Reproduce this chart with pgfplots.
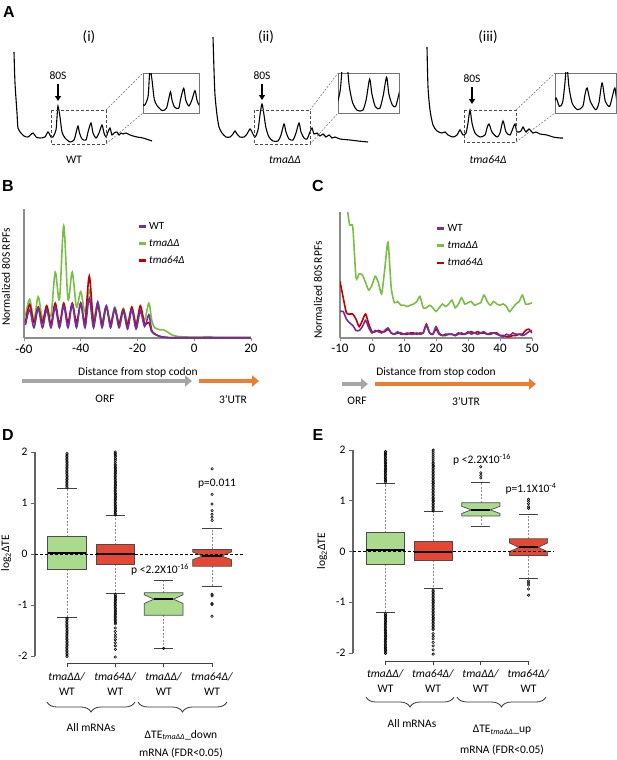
\documentclass[border=0pt]{standalone}
\usepackage{fontspec}
\setmainfont{Carlito}
\newfontfamily\panelfont{Liberation Sans}
\usepackage{pgfplots}
\pgfplotsset{compat=1.18}
\usepackage{pgfplotstable}
\usetikzlibrary{arrows.meta,decorations.pathreplacing}

\definecolor{wtc}{RGB}{112,48,160}
\definecolor{ddc}{RGB}{122,190,70}
\definecolor{dsf}{RGB}{192,0,0}
\definecolor{boxg}{RGB}{170,218,140}
\definecolor{boxr}{RGB}{228,72,52}
\definecolor{arrg}{RGB}{165,165,165}
\definecolor{arro}{RGB}{237,125,49}

\newcommand\labfont{\fontsize{11.5}{14}\selectfont}
\newcommand\tickfont{\fontsize{13}{15}\selectfont}
\newcommand\legfont{\fontsize{11}{13}\selectfont}
\newcommand\catfont{\fontsize{11.5}{15}\selectfont}
\newcommand\letfont{\panelfont\bfseries\fontsize{16}{18}\selectfont}

% polysome traces, x = position, y = -height (page pixels)
\pgfplotstableread{
x y
14 -52
15 -83
17 -113
18 -128
21 -133
24 -136
28 -137
33 -133
36 -137
40 -138
45 -137
48 -132
51 -137
53 -137
56 -130
57 -117
58 -106
60 -117
62 -132
65 -138
70 -142
74 -140
76 -133
78 -126
79.5 -133
82 -139
86 -140
88 -132
91 -123
93 -133
96 -138
99 -133
102 -125
104 -133
106 -137
108 -132
110 -128
112 -135
114 -133
117 -132
119 -135
121 -133
123 -134
126 -133
130 -135
137 -137
143 -138
152 -141
}\profI

\pgfplotstableread{
x y
213 -37
214 -70
215 -95
217 -115
219 -127
222 -133
226 -137
230 -137
233 -134
235 -131
237 -134
240 -137
244 -137
247 -134
250 -129
252 -132
255 -137
258 -130
260 -115
262 -104
264 -115
266 -128
269 -137
273 -141
278 -141
281 -135
284 -124
286 -132
289 -139
293 -140
296 -133
299 -123
301 -132
304 -138
307 -139
310 -132
312 -128
314 -134
317 -133
320 -136
323 -134
326 -137
329 -135
332 -138
335 -137
340 -139
350 -140
358 -141
368 -142
}\profII

\pgfplotstableread{
x y
427 -47
428 -87
430 -110
433 -125
437 -131
442 -133
445 -132
448 -135
453 -137
457 -135
460 -130
463 -135
466 -133
468 -123
470 -110
472 -123
475 -133
480 -137
485 -135
487 -128
489 -124
492 -132
497 -137
500 -133
503 -121
506 -132
510 -135
513 -128
515 -124
517 -132
521 -131
523 -127
526 -132
529 -129
533 -133
536 -132
540 -134
547 -135
553 -137
560 -138
563 -138
}\profIII

% panel B: metagene around stop codon
\pgfplotstableread{
x wt dd dsf
-59.5 10 17 12
-58 22 30 26
-56.5 8 14 12
-55 23 32 24
-53.5 8 15 12
-52 22 24 25
-50.5 8 17 11
-49 24 51 27
-47.5 8 30 11
-46 25 87 27
-44.5 8 30 12
-43 26 51 27
-41.5 8 24 12
-40 27 36 27
-38.5 8 20 12
-37 31 37 48
-35.5 8 16 12
-34 28 27 25
-32.5 8 13 11
-31 25 25 24
-29.5 8 12 11
-28 23 24 22
-26.5 8 12 11
-25 21 23 22
-23.5 7 12 10
-22 22 23 24
-20.5 7 12 10
-19 21 22 25
-17.5 9 14 11
-16 18 27 12
-15 6 14 5
-14 3.5 8 3
-13 2 7 2
-12 1.2 6.3 1.2
-11 0.8 6.5 0.7
-10 0.5 5.5 0.5
-9 0.3 4 0.3
-8 0.2 2.6 0.2
-7 0.2 1.8 0.2
-6 0.2 1.3 0.2
-5 0.2 1 0.2
-3 0.2 0.8 0.2
0 0.2 0.6 0.2
3 0.2 0.7 0.2
5 0.2 1.0 0.2
7 0.2 0.5 0.2
10 0.2 0.5 0.2
15 0.2 0.5 0.2
20 0.2 0.5 0.2
}\tabB

% panel C: 3'UTR
\pgfplotstableread{
x wt dd dsf
-10 21 150 45
-9 21 130 32
-8 15 108 20
-7 12 90 19
-6 10 88 19
-5 6 48 15
-4 6 51 9
-3 9 50 14
-2 14 44 19
-1 8 38 11
0 4 42 5
1 6 49 5
2 5 44 6
3 4 35 5
4 6 55 5
5 8 76 7
6 4 40 4
7 3 28 3
8 5 29 4
9 3 26 4
10 3 26 3
11 4 25 3
12 3 26 4
13 3 27 4
14 4 29 3
15 3 33 4
16 4 24 4
17 10 24 11
18 4 26 4
19 3 24 3
20 9 21 7
21 4 24 3
22 2 27 2
23 2 25 3
24 3 27 3
25 3 30 3
26 2 24 2
27 3 27 4
28 4 32 3
29 3 27 3
30 5 28 4
31 3 29 5
32 4 26 4
33 3 27 5
34 4 28 4
35 5 34 4
36 3 29 3
37 4 26 3
38 4 29 4
39 3 27 4
40 2 26 2
41 1 27 2
42 3 25 1
43 2 21 1
44 4 24 2
45 3 27 2
46 3 29 3
47 2 34 3
48 3 27 6
49 5 27 7
50 6 28 4
}\tabC

\pgfplotsset{
  prfax/.style={scale only axis, anchor=south west, axis lines=none},
  insax/.style={scale only axis, anchor=south west, xtick=\empty, ytick=\empty,
    axis line style={black!55, line width=0.8pt}},
  trc/.style={black, line width=1.1pt, smooth, tension=0.45},
  lineax/.style={scale only axis, anchor=south west,
    axis x line*=bottom, axis y line*=left,
    axis line style={black!45, line width=1.2pt},
    ymin=0, ymax=100, ytick=\empty,
    tick align=outside, major tick length=3pt,
    tick style={black!45, line width=0.9pt},
    xticklabel style={font=\tickfont},
    legend cell align=left,
    legend style={draw=none, fill=none, font=\legfont, row sep=4.5pt,
      inner sep=0pt, anchor=north west},
    legend image code/.code={\draw[##1] (0pt,0pt) -- (7pt,0pt);}},
  boxax/.style={scale only axis, anchor=south west,
    ymin=-2, ymax=2, clip=false, unbounded coords=jump,
    axis y line*=left, axis x line*=bottom,
    x axis line style={draw=none},
    y axis line style={black!60, line width=1.3pt},
    ytick={-2,-1,0,1,2}, yticklabels={-2,-1,0,1,2},
    xtick={1,2,3,4},
    tick align=outside, major tick length=4pt,
    ytick style={black!60, line width=1pt},
    xtick style={draw=none},
    yticklabel style={font=\labfont},
    xticklabel style={font=\catfont, align=center, yshift=-9pt}},
  bxwhisk/.style={black!45, line width=0.5pt, dash pattern=on 2pt off 1.5pt},
  bxcap/.style={black!75, line width=0.9pt},
  bxline/.style={draw=black!70, line width=0.7pt},
  bxmed/.style={black, line width=2pt},
  bxout/.style={only marks, mark=o, mark size=1.25pt, black,
    mark options={line width=0.55pt}},
  bxzero/.style={black, line width=0.8pt, dash pattern=on 3pt off 2pt},
}

\begin{document}
\begin{tikzpicture}
\useasboundingbox (0pt,0pt) rectangle (617pt,-760pt);

% ---------- A: polysome profiles ----------
\begin{axis}[prfax, xmin=10, xmax=160, ymin=-150, ymax=-30,
  width=150pt, height=120pt, at={(10pt,-150pt)}]
\addplot[trc] table {\profI};
\end{axis}
\begin{axis}[insax, xmin=51, xmax=106, ymin=-144, ymax=-110,
  width=56pt, height=40pt, at={(143pt,-113pt)}]
\addplot[trc] table {\profI};
\end{axis}

\begin{axis}[prfax, xmin=205, xmax=375, ymin=-150, ymax=-30,
  width=170pt, height=120pt, at={(205pt,-150pt)}]
\addplot[trc] table {\profII};
\end{axis}
\begin{axis}[insax, xmin=256, xmax=310, ymin=-142.5, ymax=-120.7,
  width=61pt, height=40pt, at={(338pt,-113pt)}]
\addplot[trc] table {\profII};
\end{axis}

\begin{axis}[prfax, xmin=420, xmax=570, ymin=-150, ymax=-30,
  width=150pt, height=120pt, at={(420pt,-150pt)}]
\addplot[trc] table {\profIII};
\end{axis}
\begin{axis}[insax, xmin=459, xmax=516, ymin=-139, ymax=-115,
  width=61pt, height=40pt, at={(555pt,-113pt)}]
\addplot[trc] table {\profIII};
\end{axis}

% ---------- B ----------
\begin{axis}[lineax, width=227pt, height=129pt, at={(24pt,-338pt)},
  xmin=-60, xmax=20, xtick={-60,-40,-20,0,20}, xticklabels={-60,-40,-20,0,20},
  legend style={at={(axis description cs:0.5,0.915)}}]
\addlegendimage{wtc, line width=2.5pt}\addlegendentry{WT}
\addlegendimage{ddc, line width=2.5pt}\addlegendentry{\textit{tmaΔΔ}}
\addlegendimage{dsf, line width=2.5pt}\addlegendentry{\textit{tma64Δ}}
\addplot[ddc, line width=1.6pt, smooth, forget plot] table[x=x, y=dd] {\tabB};
\addplot[dsf, line width=1.6pt, smooth, forget plot] table[x=x, y=dsf] {\tabB};
\addplot[wtc, line width=1.6pt, smooth, forget plot] table[x=x, y=wt] {\tabB};
\end{axis}

% ---------- C ----------
\begin{axis}[lineax, width=192pt, height=126pt, at={(340pt,-338pt)},
  xmin=-10, xmax=50, xtick={-10,0,10,20,30,40,50},
  xticklabels={-10,0,10,20,30,40,50},
  legend style={at={(axis description cs:0.5,0.92)}}]
\addlegendimage{wtc, line width=2.5pt}\addlegendentry{WT}
\addlegendimage{ddc, line width=2.5pt}\addlegendentry{\textit{tmaΔΔ}}
\addlegendimage{dsf, line width=2.5pt}\addlegendentry{\textit{tma64Δ}}
\addplot[ddc, line width=1.6pt, smooth, tension=0.4, forget plot] table[x=x, y=dd] {\tabC};
\addplot[dsf, line width=1.6pt, smooth, tension=0.4, forget plot] table[x=x, y=dsf] {\tabC};
\addplot[wtc, line width=1.6pt, smooth, tension=0.4, forget plot] table[x=x, y=wt] {\tabC};
\end{axis}

% ---------- D ----------
\begin{axis}[boxax, width=209pt, height=204pt, at={(35pt,-656pt)},
  xmin=0.34, xmax=4.66,
  xticklabels={{\textit{tmaΔΔ/}\\WT},{\textit{tma64Δ/}\\WT},{\textit{tmaΔΔ/}\\WT},{\textit{tma64Δ/}\\WT}}]
\addplot[bxwhisk] coordinates {(1,0.34)(1,1.29)(1,nan)(1,-0.30)(1,-1.24)};
\addplot[bxwhisk] coordinates {(2,0.18)(2,0.75)(2,nan)(2,-0.20)(2,-0.78)};
\addplot[bxwhisk] coordinates {(3,-0.76)(3,-0.52)(3,nan)(3,-1.20)(3,-1.85)};
\addplot[bxwhisk] coordinates {(4,0.09)(4,0.50)(4,nan)(4,-0.24)(4,-0.645)};
\addplot[bxcap] coordinates {(0.8,1.29)(1.2,1.29)(nan,nan)(0.8,-1.24)(1.2,-1.24)};
\addplot[bxcap] coordinates {(1.8,0.75)(2.2,0.75)(nan,nan)(1.8,-0.78)(2.2,-0.78)};
\addplot[bxcap] coordinates {(2.8,-0.52)(3.2,-0.52)(nan,nan)(2.8,-1.85)(3.2,-1.85)};
\addplot[bxcap] coordinates {(3.8,0.50)(4.2,0.50)(nan,nan)(3.8,-0.645)(4.2,-0.645)};
\addplot[bxline, fill=boxg] coordinates {(0.6,-0.30)(1.4,-0.30)(1.4,0.34)(0.6,0.34)} -- cycle;
\addplot[bxline, fill=boxr] coordinates {(1.6,-0.20)(2.4,-0.20)(2.4,0.18)(1.6,0.18)} -- cycle;
\addplot[bxline, fill=boxg] coordinates {(2.6,-1.20)(2.6,-0.97)(2.8,-0.885)(2.6,-0.80)(2.6,-0.76)(3.4,-0.76)(3.4,-0.80)(3.2,-0.885)(3.4,-0.97)(3.4,-1.20)} -- cycle;
\addplot[bxline, fill=boxr] coordinates {(3.6,-0.24)(3.6,-0.11)(3.8,-0.04)(3.6,0.04)(3.6,0.09)(4.4,0.09)(4.4,0.04)(4.2,-0.04)(4.4,-0.11)(4.4,-0.24)} -- cycle;
\addplot[bxmed] coordinates {(0.6,0.01)(1.4,0.01)};
\addplot[bxmed] coordinates {(1.6,0)(2.4,0)};
\addplot[bxmed] coordinates {(2.8,-0.885)(3.2,-0.885)};
\addplot[bxmed] coordinates {(3.8,-0.04)(4.2,-0.04)};
\addplot[bxout] coordinates {(1,1.31)(1,1.34)(1,1.37)(1,1.40)(1,1.43)(1,1.46)(1,1.49)(1,1.52)(1,1.55)(1,1.58)(1,1.61)(1,1.64)(1,1.67)(1,1.70)(1,1.73)(1,1.76)(1,1.79)(1,1.82)(1,1.85)(1,1.88)(1,1.91)(1,1.94)(1,1.97)
 (1,-1.26)(1,-1.29)(1,-1.32)(1,-1.35)(1,-1.38)(1,-1.41)(1,-1.44)(1,-1.47)(1,-1.50)(1,-1.53)(1,-1.56)(1,-1.59)(1,-1.62)(1,-1.65)(1,-1.68)(1,-1.71)(1,-1.74)(1,-1.77)(1,-1.80)(1,-1.83)(1,-1.86)(1,-1.89)(1,-1.92)(1,-1.95)(1,-1.98)(1,-2.01)};
\addplot[bxout] coordinates {(2,0.77)(2,0.80)(2,0.83)(2,0.86)(2,0.89)(2,0.92)(2,0.95)(2,0.98)(2,1.01)(2,1.04)(2,1.07)(2,1.10)(2,1.13)(2,1.16)(2,1.19)(2,1.22)(2,1.25)(2,1.28)(2,1.31)(2,1.34)(2,1.37)(2,1.40)(2,1.43)(2,1.46)(2,1.49)(2,1.52)(2,1.55)(2,1.58)(2,1.61)(2,1.64)(2,1.67)(2,1.70)(2,1.73)(2,1.76)(2,1.80)(2,1.84)(2,1.87)(2,1.91)(2,1.94)(2,1.97)(2,2.00)
 (2,-0.80)(2,-0.83)(2,-0.86)(2,-0.89)(2,-0.92)(2,-0.95)(2,-0.98)(2,-1.01)(2,-1.04)(2,-1.07)(2,-1.10)(2,-1.13)(2,-1.16)(2,-1.19)(2,-1.22)(2,-1.25)(2,-1.28)(2,-1.31)(2,-1.34)(2,-1.37)(2,-1.45)(2,-1.52)(2,-1.58)(2,-1.63)(2,-1.68)(2,-1.74)(2,-1.80)(2,-1.87)(2,-2.02)};
\addplot[bxout] coordinates {(3,-1.85)};
\addplot[bxout] coordinates {(4,0.66)(4,0.72)(4,0.78)(4,0.85)(4,0.98)(4,1.17)(4,1.67)(4,-0.79)(4,-0.82)(4,-0.97)(4,-0.99)(4,-1.22)};
\addplot[bxzero] coordinates {(0.34,0)(4.66,0)};
\addplot[black!75, line width=0.8pt] coordinates {(1,-2.22)(1,-2.14)(2,-2.14)(2,-2.22)(2,-2.14)(3,-2.14)(3,-2.22)(3,-2.14)(4,-2.14)(4,-2.22)};
\end{axis}

% ---------- E ----------
\begin{axis}[boxax, width=207pt, height=203pt, at={(353pt,-653pt)},
  xmin=0.32, xmax=4.66,
  xticklabels={{\textit{tmaΔΔ/}\\WT},{\textit{tma64Δ/}\\WT},{\textit{tmaΔΔ/}\\WT},{\textit{tma64Δ/}\\WT}}]
\addplot[bxwhisk] coordinates {(1,0.37)(1,1.34)(1,nan)(1,-0.25)(1,-1.20)};
\addplot[bxwhisk] coordinates {(2,0.21)(2,0.78)(2,nan)(2,-0.17)(2,-0.73)};
\addplot[bxwhisk] coordinates {(3,0.96)(3,1.36)(3,nan)(3,0.70)(3,0.50)};
\addplot[bxwhisk] coordinates {(4,0.25)(4,0.73)(4,nan)(4,-0.08)(4,-0.54)};
\addplot[bxcap] coordinates {(0.8,1.34)(1.2,1.34)(nan,nan)(0.8,-1.20)(1.2,-1.20)};
\addplot[bxcap] coordinates {(1.8,0.78)(2.2,0.78)(nan,nan)(1.8,-0.73)(2.2,-0.73)};
\addplot[bxcap] coordinates {(2.8,1.36)(3.2,1.36)(nan,nan)(2.8,0.50)(3.2,0.50)};
\addplot[bxcap] coordinates {(3.8,0.73)(4.2,0.73)(nan,nan)(3.8,-0.54)(4.2,-0.54)};
\addplot[bxline, fill=boxg] coordinates {(0.6,-0.25)(1.4,-0.25)(1.4,0.37)(0.6,0.37)} -- cycle;
\addplot[bxline, fill=boxr] coordinates {(1.6,-0.17)(2.4,-0.17)(2.4,0.21)(1.6,0.21)} -- cycle;
\addplot[bxline, fill=boxg] coordinates {(2.6,0.70)(2.6,0.75)(2.8,0.82)(2.6,0.89)(2.6,0.96)(3.4,0.96)(3.4,0.89)(3.2,0.82)(3.4,0.75)(3.4,0.70)} -- cycle;
\addplot[bxline, fill=boxr] coordinates {(3.6,-0.08)(3.6,0.0)(3.8,0.08)(3.6,0.17)(3.6,0.25)(4.4,0.25)(4.4,0.17)(4.2,0.08)(4.4,0.0)(4.4,-0.08)} -- cycle;
\addplot[bxmed] coordinates {(0.6,0.03)(1.4,0.03)};
\addplot[bxmed] coordinates {(1.6,0)(2.4,0)};
\addplot[bxmed] coordinates {(2.8,0.82)(3.2,0.82)};
\addplot[bxmed] coordinates {(3.8,0.08)(4.2,0.08)};
\addplot[bxout] coordinates {(1,1.37)(1,1.40)(1,1.43)(1,1.46)(1,1.49)(1,1.52)(1,1.55)(1,1.58)(1,1.61)(1,1.64)(1,1.67)(1,1.70)(1,1.73)(1,1.76)(1,1.79)(1,1.82)(1,1.85)(1,1.88)(1,1.91)(1,1.94)(1,1.97)
 (1,-1.23)(1,-1.26)(1,-1.29)(1,-1.32)(1,-1.35)(1,-1.38)(1,-1.41)(1,-1.44)(1,-1.47)(1,-1.50)(1,-1.53)(1,-1.56)(1,-1.59)(1,-1.62)(1,-1.65)(1,-1.68)(1,-1.71)(1,-1.74)(1,-1.77)(1,-1.80)(1,-1.83)(1,-1.86)(1,-1.89)(1,-1.92)(1,-1.95)(1,-1.98)(1,-2.01)};
\addplot[bxout] coordinates {(2,0.80)(2,0.83)(2,0.86)(2,0.89)(2,0.92)(2,0.95)(2,0.98)(2,1.01)(2,1.04)(2,1.07)(2,1.10)(2,1.13)(2,1.16)(2,1.19)(2,1.22)(2,1.25)(2,1.28)(2,1.31)(2,1.34)(2,1.37)(2,1.40)(2,1.43)(2,1.46)(2,1.49)(2,1.52)(2,1.55)(2,1.58)(2,1.61)(2,1.64)(2,1.67)(2,1.70)(2,1.73)(2,1.76)(2,1.80)(2,1.84)(2,1.88)(2,1.92)(2,1.96)(2,2.00)
 (2,-0.76)(2,-0.79)(2,-0.82)(2,-0.85)(2,-0.88)(2,-0.91)(2,-0.94)(2,-0.97)(2,-1.00)(2,-1.03)(2,-1.06)(2,-1.09)(2,-1.12)(2,-1.15)(2,-1.18)(2,-1.21)(2,-1.24)(2,-1.27)(2,-1.30)(2,-1.33)(2,-1.36)(2,-1.39)(2,-1.42)(2,-1.45)(2,-1.48)(2,-1.51)(2,-1.54)(2,-1.62)(2,-1.67)(2,-1.72)(2,-1.79)(2,-1.86)(2,-1.94)(2,-2.02)};
\addplot[bxout] coordinates {(3,1.45)(3,1.50)(3,1.55)(3,1.67)};
\addplot[bxout] coordinates {(4,0.85)(4,0.88)(4,0.94)(4,0.99)(4,1.03)(4,-0.58)(4,-0.62)(4,-0.66)(4,-0.74)(4,-0.86)};
\addplot[bxzero] coordinates {(0.32,0)(4.52,0)};
\addplot[black!75, line width=0.8pt] coordinates {(1,-2.24)(1,-2.16)(2,-2.16)(2,-2.24)(2,-2.16)(3,-2.16)(3,-2.24)(3,-2.16)(4,-2.16)(4,-2.24)};
\end{axis}

% ---------- annotations in page pixels ----------
\begin{scope}[x=1pt, y=-1pt]
\node[font=\letfont] at (9,12) {A};
\node[font=\letfont] at (8,186) {B};
\node[font=\letfont] at (318,186) {C};
\node[font=\letfont] at (8,435) {D};
\node[font=\letfont] at (318,435) {E};

\node[font=\fontsize{15}{17}\selectfont] at (89,37) {(i)};
\node[font=\fontsize{15}{17}\selectfont] at (266,37) {(ii)};
\node[font=\fontsize{15}{17}\selectfont] at (488,37) {(iii)};

% zoom boxes
\draw[black!70, line width=0.8pt, dash pattern=on 3pt off 2pt] (51,110) rectangle (106,144);
\draw[black!60, line width=0.5pt, dash pattern=on 2pt off 1.5pt] (106,110) -- (143,73) (106,144) -- (143,113);
\draw[black!70, line width=0.8pt, dash pattern=on 3pt off 2pt] (254,110) rectangle (310,144);
\draw[black!60, line width=0.5pt, dash pattern=on 2pt off 1.5pt] (310,110) -- (338,73) (310,144) -- (338,113);
\draw[black!70, line width=0.8pt, dash pattern=on 3pt off 2pt] (464,110) rectangle (516,142);
\draw[black!60, line width=0.5pt, dash pattern=on 2pt off 1.5pt] (516,110) -- (555,73) (516,142) -- (555,113);

\node[font=\labfont] at (58,76) {80S};
\draw[line width=1.2pt, -{Triangle[length=5pt,width=6pt]}] (58,84) -- (58,101);
\node[font=\labfont] at (262,76) {80S};
\draw[line width=1.2pt, -{Triangle[length=5pt,width=6pt]}] (262,84) -- (262,100);
\node[font=\labfont] at (472,79) {80S};
\draw[line width=1.2pt, -{Triangle[length=5pt,width=6pt]}] (472,87) -- (472,104);

\node[font=\labfont] at (74,160) {WT};
\node[font=\labfont] at (285,160) {\textit{tmaΔΔ}};
\node[font=\labfont] at (488,160) {\textit{tma64Δ}};

% B / C labels and region arrows
\node[font=\labfont, rotate=90] at (6,277) {Normalized 80S RPFs};
\node[font=\labfont, rotate=90] at (318,290) {Normalized 80S RPFs};
\node[font=\labfont] at (138,372) {Distance from stop codon};
\node[font=\labfont] at (436,372) {Distance from stop codon};
\draw[arrg, line width=4pt, -{Triangle[length=7pt,width=11pt]}] (22,381) -- (192,381);
\draw[arro, line width=4pt, -{Triangle[length=7pt,width=11pt]}] (199,381) -- (259,381);
\draw[arrg, line width=4pt, -{Triangle[length=7pt,width=11pt]}] (342,384) -- (368,384);
\draw[arro, line width=4pt, -{Triangle[length=7pt,width=11pt]}] (375,384) -- (536,384);
\node[font=\labfont] at (105,399) {ORF};
\node[font=\labfont] at (233,399) {3’UTR};
\node[font=\labfont] at (357,401) {ORF};
\node[font=\labfont] at (466,401) {3’UTR};

% D / E labels
\node[font=\labfont, rotate=90] at (6,553) {log\textsubscript{2}ΔTE};
\node[font=\labfont, rotate=90] at (322,551) {log\textsubscript{2}ΔTE};
\node[font=\labfont] at (217,484) {p=0.011};
\node[font=\labfont] at (160,570) {p <2.2X10\textsuperscript{-16}};
\node[font=\labfont] at (482,460) {p <2.2X10\textsuperscript{-16}};
\node[font=\labfont] at (531,489) {p=1.1X10\textsuperscript{-4}};

\draw[black!80, line width=0.8pt, decorate, decoration={brace, mirror, amplitude=10pt}] (47,702) -- (135,702);
\draw[black!80, line width=0.8pt, decorate, decoration={brace, mirror, amplitude=10pt}] (138,702) -- (227,702);
\node[font=\labfont] at (91,728) {All mRNAs};
\node[font=\labfont] at (181,735) {ΔTE\textsubscript{\textit{tmaΔΔ}}\_down};
\node[font=\labfont] at (181,753) {mRNA (FDR<0.05)};

\draw[black!80, line width=0.8pt, decorate, decoration={brace, mirror, amplitude=10pt}] (366,697) -- (454,697);
\draw[black!80, line width=0.8pt, decorate, decoration={brace, mirror, amplitude=10pt}] (457,697) -- (546,697);
\node[font=\labfont] at (412,724) {All mRNAs};
\node[font=\labfont] at (502,730) {ΔTE\textsubscript{\textit{tmaΔΔ}}\_up};
\node[font=\labfont] at (502,750) {mRNA (FDR<0.05)};
\end{scope}
\end{tikzpicture}
\end{document}
